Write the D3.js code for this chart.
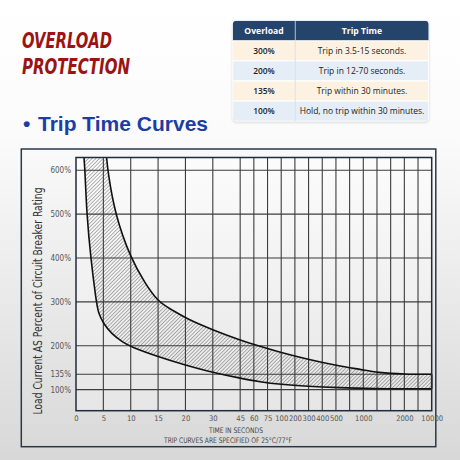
<!DOCTYPE html>
<html>
<head>
<meta charset="utf-8">
<script src="https://cdn.jsdelivr.net/npm/d3@7"></script>
<style>
  html, body { margin: 0; padding: 0; background: #fff; }
  #chart { width: 460px; height: 460px; }
</style>
</head>
<body>
<div id="chart"></div>
<script>
'use strict';

// x axis categories (seconds) and the grid slot each one sits on
var xTicks = [0, 5, 10, 15, 20, 30, 45, 60, 75, 100, 200, 300, 400, 500, 1000, 2000, 10000];
var xSlots = [0, 1, 2, 3, 4, 5, 6, 6.5, 7, 7.5, 8, 8.5, 9, 9.5, 10.5, 12, 13];

// y axis ticks (percent of rating)
var yTicks = [100, 135, 200, 300, 400, 500, 600];

// fast trip boundary (left curve)
var fastSec = [1.46, 1.64, 1.96, 2.7, 3.66, 4.08, 5, 6.5, 8.65, 10, 15, 20, 30, 45, 66.8, 97.8, 296, 515, 1330, 2000, 10000];
var fastPct = [629, 600, 500, 399, 304, 274, 251, 227, 207, 198, 175, 156, 139, 126, 117.7, 112, 107.5, 104.5, 102, 102, 102];

// slow trip boundary (right curve)
var slowSec = [5.6, 5.8, 7.1, 10, 12.6, 15, 17.5, 20, 30, 45, 61.2, 97.8, 296, 515, 1000, 1330, 2000, 10000];
var slowPct = [629, 599, 500, 399, 343, 300, 282, 263, 236, 213, 202, 185, 169, 155, 145, 139, 135, 135];

// trip time table
var tableHead = ["Overload", "Trip Time"];
var overloadCol = ["300%", "200%", "135%", "100%"];
var tripCol = ["Trip in 3.5-15 seconds.", "Trip in 12-70 seconds.", "Trip within 30 minutes.", "Hold, no trip within 30 minutes."];

var W = 460, H = 460;
var plot = {left: 76, right: 431.7, top: 157.5, bottom: 410.7};
var condensed = "'DejaVu Sans Condensed', 'Liberation Sans Narrow', sans-serif";
var narrow = "'Liberation Sans Narrow', 'DejaVu Sans Condensed', sans-serif";

var svg = d3.select("#chart").append("svg")
    .attr("width", W)
    .attr("height", H);

var defs = svg.append("defs");

// page background gradient
var bg = defs.append("linearGradient").attr("id", "bg")
    .attr("x1", 0).attr("y1", 0).attr("x2", 0).attr("y2", 1);
bg.append("stop").attr("offset", "0").attr("stop-color", "#ffffff");
bg.append("stop").attr("offset", "0.3").attr("stop-color", "#fbfbfb");
bg.append("stop").attr("offset", "1").attr("stop-color", "#d8d8d8");

var pg = defs.append("linearGradient").attr("id", "pg")
    .attr("x1", 0).attr("y1", 0).attr("x2", 0).attr("y2", 1);
pg.append("stop").attr("offset", "0").attr("stop-color", "#fcfcfc");
pg.append("stop").attr("offset", "1").attr("stop-color", "#e6e6e6");

// diagonal hatch
defs.append("pattern")
    .attr("id", "hatch")
    .attr("width", 2.6).attr("height", 2.6)
    .attr("patternUnits", "userSpaceOnUse")
    .attr("patternTransform", "rotate(45)")
  .append("line")
    .attr("x1", 0).attr("y1", 0).attr("x2", 0).attr("y2", 2.6)
    .attr("stroke", "#3a3a3a")
    .attr("stroke-width", 0.75);

var shadow = defs.append("filter").attr("id", "shadow")
    .attr("x", "-10%").attr("y", "-10%").attr("width", "120%").attr("height", "130%");
shadow.append("feDropShadow")
    .attr("dx", 0).attr("dy", 1).attr("stdDeviation", 1.5)
    .attr("flood-color", "#000").attr("flood-opacity", 0.18);

svg.append("rect")
    .attr("width", W).attr("height", H)
    .attr("fill", "url(#bg)");

// ---- titles ----
svg.append("text")
    .attr("x", 22).attr("y", 48)
    .attr("textLength", 90).attr("lengthAdjust", "spacingAndGlyphs")
    .style("font-family", narrow)
    .style("font-size", "21px").style("font-weight", "bold").style("font-style", "italic")
    .style("fill", "#9b1313")
    .text("OVERLOAD");

svg.append("text")
    .attr("x", 22).attr("y", 74)
    .attr("textLength", 108).attr("lengthAdjust", "spacingAndGlyphs")
    .style("font-family", narrow)
    .style("font-size", "21px").style("font-weight", "bold").style("font-style", "italic")
    .style("fill", "#9b1313")
    .text("PROTECTION");

svg.append("text")
    .attr("x", 23).attr("y", 131)
    .style("font-family", "'Liberation Sans', Arial, sans-serif")
    .style("font-size", "21px").style("font-weight", "bold")
    .style("fill", "#1c3ea3")
    .text("•");

svg.append("text")
    .attr("x", 38).attr("y", 131)
    .style("font-family", "'Liberation Sans', Arial, sans-serif")
    .style("font-size", "21px").style("font-weight", "bold")
    .style("fill", "#1c3ea3")
    .text("Trip Time Curves");

// ---- table ----
var tb = {left: 232.7, right: 428.7, split: 295.3, top: 20.7, row: 20.1};
var tableG = svg.append("g");

defs.append("clipPath").attr("id", "tclip")
  .append("rect")
    .attr("x", tb.left).attr("y", tb.top)
    .attr("width", tb.right - tb.left).attr("height", tb.row * 5)
    .attr("rx", 4);

tableG.append("rect")
    .attr("x", tb.left).attr("y", tb.top)
    .attr("width", tb.right - tb.left).attr("height", tb.row * 5)
    .attr("rx", 4)
    .attr("fill", "#fff")
    .attr("filter", "url(#shadow)");

var cells = tableG.append("g").attr("clip-path", "url(#tclip)");

cells.append("rect")
    .attr("x", tb.left).attr("y", tb.top)
    .attr("width", tb.right - tb.left).attr("height", tb.row)
    .attr("fill", "#25446c");

cells.selectAll(".trow")
    .data(overloadCol)
    .enter()
    .append("rect")
        .attr("class", "trow")
        .attr("x", tb.left)
        .attr("y", function(d, i) { return tb.top + tb.row * (i + 1); })
        .attr("width", tb.right - tb.left)
        .attr("height", tb.row)
        .attr("fill", function(d, i) { return i % 2 == 0 ? "#fdf2e2" : "#e5edf7"; })
        .attr("stroke", "#ffffff")
        .attr("stroke-width", 1);

cells.append("line")
    .attr("x1", tb.split).attr("x2", tb.split)
    .attr("y1", tb.top).attr("y2", tb.top + tb.row * 5)
    .attr("stroke", "#d6dde6").attr("stroke-width", 0.8);

var colMid = [(tb.left + tb.split) / 2, (tb.split + tb.right) / 2];

tableG.selectAll(".thead")
    .data(tableHead)
    .enter()
    .append("text")
        .attr("x", function(d, i) { return colMid[i]; })
        .attr("y", tb.top + tb.row / 2 + 3)
        .style("text-anchor", "middle")
        .style("font-family", "'Open Sans', sans-serif")
        .style("font-size", "8.6px").style("font-weight", "bold")
        .style("fill", "#ffffff")
        .text(function(d) { return d; });

tableG.selectAll(".tload")
    .data(overloadCol)
    .enter()
    .append("text")
        .attr("x", colMid[0])
        .attr("y", function(d, i) { return tb.top + tb.row * (i + 1.5) + 3; })
        .style("text-anchor", "middle")
        .style("font-family", "'Open Sans', sans-serif")
        .style("font-size", "8.4px").style("font-weight", "600")
        .style("fill", "#222")
        .text(function(d) { return d; });

tableG.selectAll(".ttrip")
    .data(tripCol)
    .enter()
    .append("text")
        .attr("x", colMid[1])
        .attr("y", function(d, i) { return tb.top + tb.row * (i + 1.5) + 3; })
        .style("text-anchor", "middle")
        .style("font-family", "'Open Sans', sans-serif")
        .style("font-size", "8.5px")
        .style("fill", "#222")
        .text(function(d) { return d; });

// ---- chart frame ----
svg.append("rect")
    .attr("x", 21.3).attr("y", 149)
    .attr("width", 414.5).attr("height", 297.7)
    .attr("fill", "none")
    .attr("stroke", "#2a3848")
    .attr("stroke-width", 1.5);

// scales: the grid is 13 wide slots, half slots past 45 s
var slotX = d3.scaleLinear()
    .domain([0, 13])
    .range([plot.left, plot.right]);

var x = d3.scaleLinear()
    .domain(xTicks)
    .range(xSlots.map(slotX));

var y = d3.scaleLinear()
    .domain([52, 629])
    .range([plot.bottom, plot.top]);

svg.append("rect")
    .attr("x", plot.left).attr("y", plot.top)
    .attr("width", plot.right - plot.left).attr("height", plot.bottom - plot.top)
    .attr("fill", "url(#pg)");

// band between the two curves
var fastPts = fastSec.map(function(s, i) { return [x(s), y(fastPct[i])]; });
var slowPts = slowSec.map(function(s, i) { return [x(s), y(slowPct[i])]; });

var line = d3.line().curve(d3.curveBasis);

var bandPath = line(slowPts) + "L" + line(fastPts.slice().reverse()).slice(1) + "Z";

svg.append("path")
    .attr("d", bandPath)
    .attr("fill", "url(#hatch)");

// grid lines
var gridSlots = d3.range(1, 6).concat(d3.range(6, 13, 0.5));
svg.append("g").selectAll("line")
    .data(gridSlots)
    .enter()
    .append("line")
        .attr("x1", function(d) { return slotX(d); })
        .attr("x2", function(d) { return slotX(d); })
        .attr("y1", plot.top).attr("y2", plot.bottom)
        .attr("stroke", "#3c3c3c")
        .attr("stroke-width", 1.1);

svg.append("g").selectAll("line")
    .data(yTicks)
    .enter()
    .append("line")
        .attr("x1", plot.left).attr("x2", plot.right)
        .attr("y1", function(d) { return y(d); })
        .attr("y2", function(d) { return y(d); })
        .attr("stroke", "#3c3c3c")
        .attr("stroke-width", 1.1);

svg.append("path")
    .attr("d", line(slowPts))
    .attr("fill", "none")
    .attr("stroke", "#111")
    .attr("stroke-width", 1.6);

svg.append("path")
    .attr("d", line(fastPts))
    .attr("fill", "none")
    .attr("stroke", "#111")
    .attr("stroke-width", 1.6);

svg.append("line")
    .attr("x1", plot.right).attr("x2", plot.right)
    .attr("y1", y(slowPct[slowPct.length - 1])).attr("y2", y(fastPct[fastPct.length - 1]))
    .attr("stroke", "#111")
    .attr("stroke-width", 1.6);

// plot border
svg.append("rect")
    .attr("x", plot.left).attr("y", plot.top)
    .attr("width", plot.right - plot.left).attr("height", plot.bottom - plot.top)
    .attr("fill", "none")
    .attr("stroke", "#1e2c3c")
    .attr("stroke-width", 1.5);

// axes
var xAxis = svg.append("g")
    .attr("transform", "translate(0," + plot.bottom + ")")
    .call(d3.axisBottom(x).tickValues(xTicks).tickSize(0).tickPadding(5).tickFormat(function(d) { return d; }));
xAxis.select(".domain").remove();
xAxis.selectAll("text")
    .style("font-family", narrow)
    .style("font-size", "7.6px")
    .style("fill", "#555");

var yAxis = svg.append("g")
    .attr("transform", "translate(" + plot.left + ",0)")
    .call(d3.axisLeft(y).tickValues(yTicks).tickSize(0).tickPadding(5).tickFormat(function(d) { return d + "%"; }));
yAxis.select(".domain").remove();
yAxis.selectAll("text")
    .style("font-family", narrow)
    .style("font-size", "8px")
    .style("fill", "#555");

// axis titles
svg.append("text")
    .attr("transform", "translate(41.5,301) rotate(-90)")
    .attr("textLength", 227).attr("lengthAdjust", "spacingAndGlyphs")
    .style("text-anchor", "middle")
    .style("font-family", condensed)
    .style("font-size", "12.5px")
    .style("fill", "#333")
    .text("Load Current AS Percent of Circuit Breaker Rating");

svg.append("text")
    .attr("x", 236).attr("y", 432.5)
    .attr("textLength", 54).attr("lengthAdjust", "spacingAndGlyphs")
    .style("text-anchor", "middle")
    .style("font-family", narrow)
    .style("font-size", "7.6px")
    .style("fill", "#444")
    .text("TIME IN SECONDS");

svg.append("text")
    .attr("x", 228).attr("y", 443)
    .attr("textLength", 128).attr("lengthAdjust", "spacingAndGlyphs")
    .style("text-anchor", "middle")
    .style("font-family", narrow)
    .style("font-size", "7.6px")
    .style("fill", "#444")
    .text("TRIP CURVES ARE SPECIFIED OF 25°C/77°F");
</script>
</body>
</html>
